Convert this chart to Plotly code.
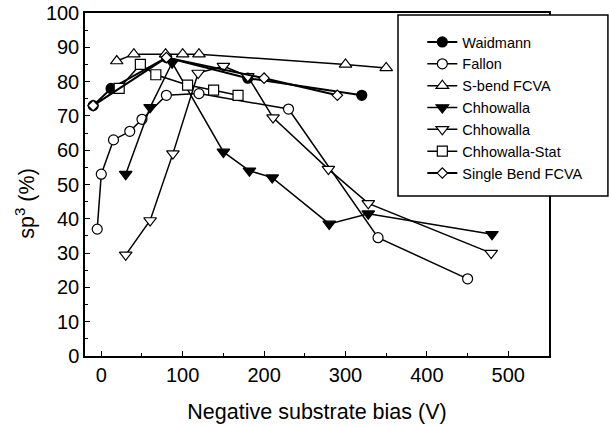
import plotly.graph_objects as go

# ---- data ----
waid_x = [-10, 12, 80, 180, 320]
waid_y = [73, 78, 87, 81, 76]

fallon_x = [-5, 0, 15, 35, 50, 80, 120, 230, 340, 450]
fallon_y = [37, 53, 63, 65.5, 69, 76, 76.5, 72, 34.5, 22.5]

sbend_x = [19, 40, 79, 100, 120, 300, 350]
sbend_y = [86, 88, 88, 88, 88, 85, 84]

chf_x = [30, 60, 87, 150, 182, 210, 280, 328, 480]
chf_y = [53, 72.5, 85.5, 59.5, 54, 52, 38.5, 41.5, 35.5]

cho_x = [30, 60, 88, 119, 150, 180, 211, 279, 328, 479]
cho_y = [29.5, 39.5, 59, 82.5, 84.5, 81.5, 69.5, 54.5, 44.5, 30]

stat_x = [22, 48, 67, 106, 138, 168]
stat_y = [78, 85, 82, 79, 77.5, 76]

single_x = [-10, 80, 200, 290]
single_y = [73, 87, 81, 76]

x_ticks = [0, 100, 200, 300, 400, 500]
y_ticks = [0, 10, 20, 30, 40, 50, 60, 70, 80, 90, 100]

x_title = "Negative substrate bias (V)"
y_title = "sp<sup>3</sup> (%)"

FONT = "Liberation Sans, Arial, sans-serif"

series = [
    ("Waidmann", waid_x, waid_y, "circle", "black", 10, 2),
    ("Fallon", fallon_x, fallon_y, "circle", "white", 10, 1.5),
    ("S-bend FCVA", sbend_x, sbend_y, "triangle-up", "white", 11, 1.5),
    ("Chhowalla", chf_x, chf_y, "triangle-down", "black", 11, 1.5),
    ("Chhowalla ", cho_x, cho_y, "triangle-down", "white", 11, 1.5),
    ("Chhowalla-Stat", stat_x, stat_y, "square", "white", 10, 1.5),
    ("Single Bend FCVA", single_x, single_y, "diamond", "white", 8, 2),
]

fig = go.Figure()
for name, xs, ys, sym, fill, size, lw in series:
    fig.add_trace(go.Scatter(
        x=xs, y=ys, mode="lines+markers", name=name,
        line=dict(color="black", width=lw),
        marker=dict(symbol=sym, size=size, color=fill,
                    line=dict(color="black", width=1.2)),
    ))

fig.add_shape(type="rect", xref="paper", yref="paper",
              x0=0.6746, x1=1.127, y0=0.4665, y1=0.994,
              fillcolor="white", line=dict(color="black", width=1.5),
              layer="above")

fig.add_annotation(text=y_title, textangle=-90, showarrow=False,
                   xref="paper", yref="paper", x=-0.13, y=0.446,
                   xanchor="center", yanchor="middle",
                   font=dict(family=FONT, size=21.5, color="black"))

axis_common = dict(
    showgrid=False, zeroline=False, showline=True, linecolor="black",
    linewidth=1.5, mirror=True, ticks="inside", ticklen=5, tickwidth=1.2,
    tickcolor="black", tickfont=dict(family=FONT, size=20, color="black"),
    minor=dict(ticks="inside", ticklen=3, tickwidth=1, tickcolor="black"),
    automargin=False, ticklabeloverflow="allow",
)

fig.update_xaxes(range=[-20, 550], tickvals=x_ticks,
                 minor_dtick=50, minor_tick0=0,
                 title=dict(text=x_title,
                            font=dict(family=FONT, size=21.5, color="black"),
                            standoff=19),
                 **axis_common)
fig.update_yaxes(range=[0, 100], tickvals=y_ticks,
                 minor_dtick=5, minor_tick0=0,
                 **axis_common)

fig.update_layout(
    width=609, height=426,
    margin=dict(l=85, r=60, t=13, b=70),
    plot_bgcolor="white", paper_bgcolor="white",
    font=dict(family=FONT, color="black"),
    legend=dict(x=0.727, y=0.962, xanchor="left", yanchor="top",
                bgcolor="rgba(0,0,0,0)", borderwidth=0,
                font=dict(family=FONT, size=14.5, color="black"),
                tracegroupgap=0),
)

fig.write_html("out.html",
               config={"displayModeBar": False},
               post_script="document.body.style.margin='0';")
